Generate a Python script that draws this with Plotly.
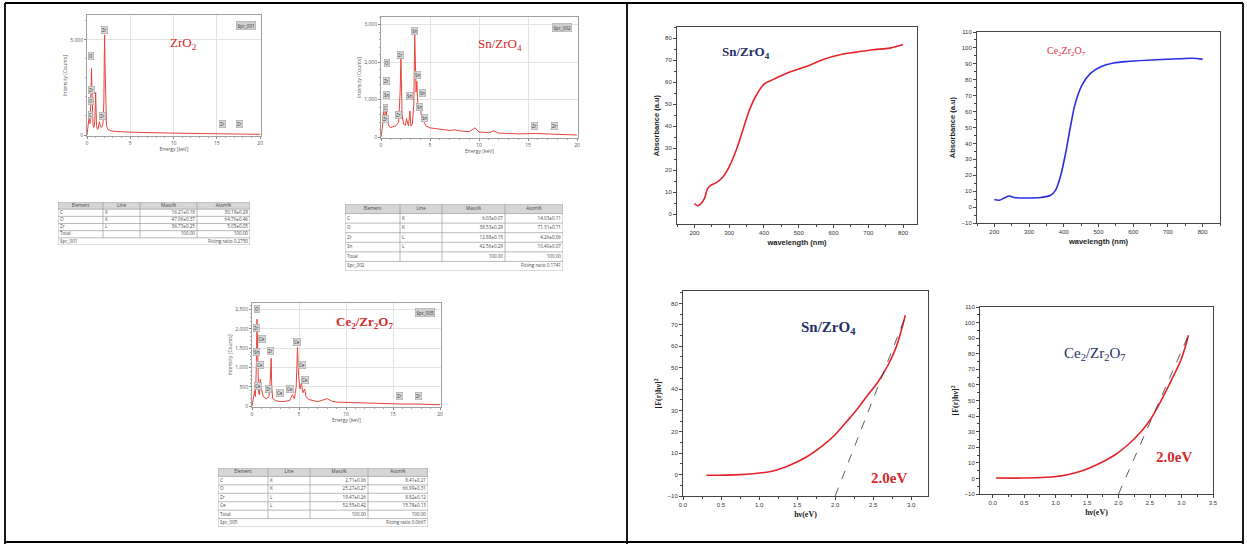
import plotly.graph_objects as go

W, H = 1247, 544

# ---------------- EDS spectra data ----------------
zro2_energy = [0, 0.1, 0.2, 0.28, 0.35, 0.42, 0.48, 0.52, 0.56, 0.62, 0.7, 0.8, 0.9, 0.96, 1.0, 1.04, 1.1, 1.2,
               1.3, 1.45, 1.55, 1.7, 1.85, 1.95, 2.0, 2.04, 2.08, 2.15, 2.25, 2.4, 2.6, 3.0, 3.5, 4.0, 5.0, 6.0,
               7.0, 8.0, 9.0, 10.0, 11.0, 12.0, 13.0, 14.0, 15.0, 15.75, 16.5, 17.67, 18.5, 20.0]
zro2_counts = [0, 300, 800, 1100, 600, 1500, 2800, 3500, 2600, 900, 500, 400, 700, 1600, 2240, 1500, 500, 300,
               350, 700, 450, 400, 600, 1800, 4200, 5260, 3800, 1200, 500, 300, 250, 200, 180, 170, 150, 140,
               120, 130, 110, 100, 90, 80, 70, 60, 55, 70, 50, 60, 45, 40]

sn_energy = [0, 0.1, 0.2, 0.28, 0.35, 0.45, 0.52, 0.6, 0.7, 0.8, 1.0, 1.2, 1.5, 1.8, 1.95, 2.0, 2.04, 2.08, 2.15,
             2.3, 2.5, 2.6, 2.7, 2.8, 2.95, 3.05, 3.2, 3.35, 3.44, 3.5, 3.58, 3.66, 3.75, 3.9, 4.0, 4.1, 4.25,
             4.4, 4.6, 5.0, 6.0, 7.0, 7.5, 8.0, 9.0, 9.6, 10.0, 11.0, 11.5, 12.0, 14.0, 15.75, 17.67, 20.0]
sn_counts = [0, 150, 400, 750, 500, 650, 800, 500, 350, 300, 250, 280, 300, 400, 1200, 1800, 2160, 1500, 600,
             350, 320, 500, 350, 300, 700, 300, 350, 900, 2730, 1800, 1200, 1490, 900, 700, 900, 600, 450,
             400, 300, 250, 220, 180, 200, 170, 150, 250, 140, 120, 170, 110, 90, 100, 80, 60]

ce_energy = [0, 0.1, 0.2, 0.28, 0.35, 0.45, 0.53, 0.6, 0.7, 0.8, 0.88, 0.95, 1.05, 1.2, 1.5, 1.8, 1.95, 2.04, 2.1,
             2.2, 2.5, 3.0, 3.5, 4.0, 4.3, 4.5, 4.7, 4.84, 4.95, 5.1, 5.26, 5.4, 5.6, 5.75, 6.0, 6.5, 7.0, 8.0,
             8.5, 9.0, 10, 12, 14, 15.75, 17.67, 20]
ce_counts = [0, 150, 300, 400, 250, 900, 2250, 800, 350, 300, 700, 500, 400, 250, 200, 250, 700, 1240, 500,
             200, 150, 120, 130, 150, 300, 200, 500, 1520, 800, 450, 600, 350, 450, 250, 180, 150, 120, 200,
             130, 110, 100, 80, 70, 60, 60, 40]

# peak labels (element, energy, counts)
zro2_labels = [("Zr", 2.07, 5490), ("O", 0.42, 4125), ("Zr", 0.5, 2380), ("O", 0.45, 1765), ("C", 0.35, 1066),
               ("Zr", 1.84, 1014), ("Zr", 15.6, 594), ("Zr", 17.6, 594)]
sn_labels = [("Sn", 3.46, 2840), ("Zr", 2.0, 2183), ("O", 0.58, 1980), ("Zr", 0.51, 1491), ("Sn", 0.51, 1118),
             ("C", 0.41, 781), ("Zr", 0.48, 488), ("Zr", 1.77, 604), ("Sn", 3.7, 1669), ("Sn", 2.95, 1110),
             ("Sn", 4.24, 1180), ("Sn", 3.9, 808), ("Sn", 4.48, 515), ("Zr", 15.7, 310), ("Zr", 17.7, 293)]
ce_labels = [("O", 0.53, 2525), ("Zr", 0.53, 2037), ("Ce", 1.07, 1729), ("Sn", 0.46, 1412), ("Zr", 2.02, 1430),
             ("Ce", 0.89, 1070), ("Ce", 0.6, 514), ("Zr", 1.78, 445), ("Ce", 3.02, 342), ("Ce", 4.09, 445),
             ("Ce", 4.8, 1652), ("Ce", 5.33, 1070), ("Ce", 5.68, 685), ("Zr", 15.7, 257), ("Zr", 17.7, 257)]

spectrum_ids = ["Spc_001", "Spc_002", "Spc_005"]

# ---------------- tables ----------------
table_header = ["Element", "Line", "Mass%", "Atom%"]
t1_element = ["C", "O", "Zr", "Total"]
t1_line = ["K", "K", "L", ""]
t1_mass = ["16.21±0.18", "47.06±0.37", "36.73±0.25", "100.00"]
t1_atom = ["30.19±0.29", "64.76±0.46", "5.05±0.05", "100.00"]
t1_footer = ("Spc_001", "Fitting ratio 0.2750")

t2_element = ["C", "O", "Zr", "Sn", "Total"]
t2_line = ["K", "K", "L", "L", ""]
t2_mass = ["6.03±0.07", "38.53±0.29", "12.88±0.15", "42.56±0.29", "100.00"]
t2_atom = ["14.03±0.11", "71.31±0.71", "4.26±0.06", "10.40±0.07", "100.00"]
t2_footer = ("Spc_002", "Fitting ratio 0.1741")

t3_element = ["C", "O", "Zr", "Ce", "Total"]
t3_line = ["K", "K", "L", "L", ""]
t3_mass = ["2.71±0.06", "25.27±0.27", "19.47±0.26", "52.55±0.42", "100.00"]
t3_atom = ["8.41±0.21", "66.99±0.31", "8.82±0.12", "15.78±0.13", "100.00"]
t3_footer = ("Spc_005", "Fitting ratio 0.0667")

# ---------------- UV-Vis data ----------------
sn_wavelength = [200, 209.6, 219, 229, 238, 248, 262, 282, 301, 320, 339, 358, 378, 402, 426, 474, 522, 570,
                 618, 666, 714, 762, 800]
sn_absorbance = [4.8, 3.8, 4.8, 7.1, 11.6, 13.2, 14.2, 16.9, 21.8, 29, 38, 47.2, 54, 59.3, 61.1, 64.6, 67.1,
                 70.2, 72.4, 73.6, 74.7, 75.4, 77]

ce_wavelength = [200, 214, 228.6, 243, 257, 295, 333, 362, 376, 390, 405, 419, 433, 452, 476, 505, 543, 590,
                 667, 733, 771, 800]
ce_absorbance = [4.7, 4.3, 5.7, 7.0, 6.0, 5.7, 6.0, 7.4, 10.5, 18.9, 33.6, 50.3, 65, 76.5, 83.8, 88, 90.5,
                 91.6, 92.6, 93.2, 93.5, 92.8]

# ---------------- Tauc data ----------------
sn_hv = [0.307, 0.745, 1.183, 1.402, 1.621, 1.840, 1.993, 2.146, 2.278, 2.409, 2.562, 2.694, 2.803, 2.922]
sn_fr = [-0.33, -0.02, 1.70, 4.35, 8.25, 13.7, 18.4, 24.6, 30.1, 36.3, 43.3, 51.1, 59.7, 74.5]
sn_tangent_hv = [2.0, 2.93]
sn_tangent_fr = [-10, 74.5]

ce_hv = [0.053, 0.50, 0.93, 1.19, 1.46, 1.72, 1.94, 2.15, 2.36, 2.52, 2.68, 2.84, 3.0, 3.11]
ce_fr = [0.23, 0.23, 0.87, 2.4, 5.4, 10.0, 15.0, 21.6, 30.1, 38.6, 50.3, 63.1, 77, 91.9]
ce_tangent_hv = [2.0, 3.11]
ce_tangent_fr = [-10, 91.9]

band_gap_label = "2.0eV"


def dom(l, r, t, b):
    return [l / W, r / W], [1 - b / H, 1 - t / H]


def px(x, y):
    return x / W, 1 - y / H


fig = go.Figure()
layout = {}
annotations = []
shapes = []

EDS_RED = "#e8453c"
SANS = "Open Sans"
SERIF = "Liberation Serif"


def ax_names(i):
    return ("x" if i == 1 else f"x{i}"), ("y" if i == 1 else f"y{i}")


def add_axes(i, box, xcfg, ycfg):
    xd, yd = dom(*box)
    xa, ya = ax_names(i)
    layout["xaxis" if i == 1 else f"xaxis{i}"] = dict(domain=xd, anchor=ya, automargin=False, **xcfg)
    layout["yaxis" if i == 1 else f"yaxis{i}"] = dict(domain=yd, anchor=xa, automargin=False, **ycfg)
    return xa, ya


def eds_axes(yr, ydt):
    common = dict(showgrid=True, gridcolor="#e3e3e3", gridwidth=0.6, linecolor="#a0a0a0", linewidth=0.8,
                  mirror=True, ticks="outside", ticklen=2, tickcolor="#888", zeroline=False,
                  tickfont=dict(size=5, color="#555", family=SANS))
    xc = dict(range=[0, 20.1], tickvals=[0, 5, 10, 15, 20],
              minor=dict(ticks="outside", ticklen=1.2, dtick=1, tickcolor="#aaa"),
              title=dict(text="Energy [keV]", font=dict(size=5, color="#555", family=SANS), standoff=2), **common)
    yc = dict(range=yr, dtick=ydt, tickformat=",",
              minor=dict(ticks="outside", ticklen=1.2, dtick=ydt / 5, tickcolor="#aaa"),
              title=dict(text="Intensity [Counts]", font=dict(size=5, color="#555", family=SANS), standoff=2),
              **common)
    return xc, yc


def paper_text(txt, x, y, size, color, family=SERIF):
    xx, yy = px(x, y)
    annotations.append(dict(x=xx, y=yy, xref="paper", yref="paper", showarrow=False, text=txt,
                            xanchor="center", yanchor="middle", font=dict(size=size, color=color, family=family)))


eds_sets = [
    (1, (87, 261, 15, 136), [-50, 6300], 5000, zro2_energy, zro2_counts, zro2_labels, spectrum_ids[0]),
    (2, (381, 578, 17, 138), [-20, 3200], 1000, sn_energy, sn_counts, sn_labels, spectrum_ids[1]),
    (3, (252, 441, 303, 407), [-17, 2670], 500, ce_energy, ce_counts, ce_labels, spectrum_ids[2]),
]
for i, box, yr, ydt, ex, ey, labs, sid in eds_sets:
    xc, yc = eds_axes(yr, ydt)
    xa, ya = add_axes(i, box, xc, yc)
    fig.add_trace(go.Scatter(x=ex, y=ey, mode="lines", line=dict(color=EDS_RED, width=1),
                             xaxis=xa, yaxis=ya, showlegend=False, hoverinfo="skip"))
    for el, e, c in labs:
        annotations.append(dict(x=e, y=c, xref=xa, yref=ya, text=el, showarrow=False,
                                xanchor="center", yanchor="middle",
                                font=dict(size=4.5, color="#333", family=SANS), bgcolor="#d8d8d8",
                                bordercolor="#9a9a9a", borderwidth=0.5, borderpad=0.5))
    annotations.append(dict(x=0.97, y=0.95, xref=f"{xa} domain", yref=f"{ya} domain", text=sid,
                            showarrow=False, xanchor="right", yanchor="top",
                            font=dict(size=4.5, color="#333", family=SANS), bgcolor="#cfcfcf",
                            bordercolor="#a0a0a0", borderwidth=0.5, borderpad=1))

# sample names on EDS panels
paper_text("ZrO<sub>2</sub>", 183, 43, 13, "#d42a2a")
paper_text("Sn/ZrO<sub>4</sub>", 500, 44, 13, "#d42a2a")
paper_text("<b>Ce<sub>2</sub>/Zr<sub>2</sub>O<sub>7</sub></b>", 364, 322, 13, "#d42a2a")

# ---------------- tables (drawn on hidden axes) ----------------
tables = [
    (8, (58, 250, 202, 245), [45, 37, 57, 53], (t1_element, t1_line, t1_mass, t1_atom), t1_footer),
    (9, (345, 563, 204, 271), [55, 42, 63, 58], (t2_element, t2_line, t2_mass, t2_atom), t2_footer),
    (10, (218, 428, 468, 527), [50, 42, 58, 60], (t3_element, t3_line, t3_mass, t3_atom), t3_footer),
]
TLINE = "#9c9c9c"
TFONT = dict(size=4.6, color="#444", family=SANS)
for i, box, cw, cols, footer in tables:
    n = len(cols[0])
    total = n + 2
    tw = sum(cw)
    hidden = dict(visible=False, showgrid=False, zeroline=False, fixedrange=True)
    xa, ya = add_axes(i, box, dict(range=[0, tw], **hidden), dict(range=[total, 0], **hidden))
    edges = [0]
    for w in cw:
        edges.append(edges[-1] + w)
    shapes.append(dict(type="rect", xref=xa, yref=ya, x0=0, x1=tw, y0=0, y1=1, fillcolor="#d6d6d6",
                       line=dict(width=0), layer="below"))
    for k in range(total + 1):
        shapes.append(dict(type="line", xref=xa, yref=ya, x0=0, x1=tw, y0=k, y1=k,
                           line=dict(color=TLINE, width=0.7)))
    for j, e in enumerate(edges):
        y1 = total if j in (0, len(edges) - 1) else total - 1
        shapes.append(dict(type="line", xref=xa, yref=ya, x0=e, x1=e, y0=0, y1=y1,
                           line=dict(color=TLINE, width=0.7)))
    fig.add_trace(go.Scatter(x=[(edges[j] + edges[j + 1]) / 2 for j in range(4)], y=[0.5] * 4,
                             text=table_header, mode="text", textposition="middle center", textfont=TFONT,
                             xaxis=xa, yaxis=ya, showlegend=False, hoverinfo="skip"))
    rows_y = [k + 1.5 for k in range(n)]
    for j in range(4):
        if j < 2:
            xs, pos = [edges[j] + 2] * n, "middle right"
        else:
            xs, pos = [edges[j + 1] - 2] * n, "middle left"
        fig.add_trace(go.Scatter(x=xs, y=rows_y, text=list(cols[j]), mode="text", textposition=pos,
                                 textfont=TFONT, xaxis=xa, yaxis=ya, showlegend=False, hoverinfo="skip"))
    fig.add_trace(go.Scatter(x=[2, tw - 2], y=[total - 0.5] * 2, text=list(footer), mode="text",
                             textposition=["middle right", "middle left"], textfont=TFONT,
                             xaxis=xa, yaxis=ya, showlegend=False, hoverinfo="skip"))


# ---------------- UV-Vis panels ----------------
def sci_axes(xr, xdt, xminor, xfmt, xtitle, yr, ydt, yminor, ytitle, title_font):
    common = dict(showgrid=False, linecolor="#444", linewidth=1, mirror=True, ticks="outside", ticklen=3,
                  tickcolor="#444", zeroline=False, tickfont=dict(size=6, color="#333", family="Liberation Sans"))
    xc = dict(range=xr, dtick=xdt, tick0=0, tickformat=xfmt,
              minor=dict(ticks="outside", ticklen=2, dtick=xminor, tickcolor="#444"),
              title=dict(text=xtitle, font=title_font, standoff=4), **common)
    yc = dict(range=yr, dtick=ydt, tick0=0,
              minor=dict(ticks="outside", ticklen=2, dtick=yminor, tickcolor="#444"),
              title=dict(text=ytitle, font=title_font, standoff=4), **common)
    return xc, yc


sans_title = dict(size=7.5, color="#222", family="Liberation Sans")
serif_title = dict(size=8, color="#222", family=SERIF)

xc, yc = sci_axes([150, 840], 100, 50, "", "<b>wavelength (nm)</b>", [-4.5, 85], 10, 5,
                  "<b>Absorbance (a.u)</b>", sans_title)
xa, ya = add_axes(4, (677, 917, 27, 224), xc, yc)
fig.add_trace(go.Scatter(x=sn_wavelength, y=sn_absorbance, mode="lines", line=dict(color="#e8222a", width=1.6),
                         line_shape="spline", xaxis=xa, yaxis=ya, showlegend=False, hoverinfo="skip"))

xc, yc = sci_axes([150, 850], 100, 50, "", "<b>wavelength (nm)</b>", [-10, 110], 10, 5,
                  "<b>Absorbance (a.u)</b>", sans_title)
xa, ya = add_axes(5, (977, 1220, 32, 223), xc, yc)
fig.add_trace(go.Scatter(x=ce_wavelength, y=ce_absorbance, mode="lines", line=dict(color="#2b2fe0", width=1.6),
                         line_shape="spline", xaxis=xa, yaxis=ya, showlegend=False, hoverinfo="skip"))

xc, yc = sci_axes([0, 3.22], 0.5, 0.25, ".1f", "<b>hν(eV)</b>", [-10, 85.8], 10, 5,
                  "<b>[F(r)hν]<sup>2</sup></b>", serif_title)
xa, ya = add_axes(6, (683, 928, 291, 496), xc, yc)
fig.add_trace(go.Scatter(x=sn_hv, y=sn_fr, mode="lines", line=dict(color="#e8222a", width=1.6),
                         line_shape="spline", xaxis=xa, yaxis=ya, showlegend=False, hoverinfo="skip"))
fig.add_trace(go.Scatter(x=sn_tangent_hv, y=sn_tangent_fr, mode="lines",
                         line=dict(color="#333", width=0.8, dash="dash"),
                         xaxis=xa, yaxis=ya, showlegend=False, hoverinfo="skip"))

xc, yc = sci_axes([-0.2, 3.5], 0.5, 0.25, ".1f", "<b>hν(eV)</b>", [-10, 110], 10, 5,
                  "<b>[F(r)hν]<sup>2</sup></b>", serif_title)
xa, ya = add_axes(7, (980, 1213, 307, 494), xc, yc)
fig.add_trace(go.Scatter(x=ce_hv, y=ce_fr, mode="lines", line=dict(color="#e8222a", width=1.6),
                         line_shape="spline", xaxis=xa, yaxis=ya, showlegend=False, hoverinfo="skip"))
fig.add_trace(go.Scatter(x=ce_tangent_hv, y=ce_tangent_fr, mode="lines",
                         line=dict(color="#333", width=0.8, dash="dash"),
                         xaxis=xa, yaxis=ya, showlegend=False, hoverinfo="skip"))

# text labels on right panels
paper_text("<b>Sn/ZrO<sub>4</sub></b>", 746, 52, 13, "#1f2f66")
paper_text("Ce<sub>2</sub>Zr<sub>2</sub>O<sub>7</sub>", 1066, 51, 10, "#e0303a")
paper_text("<b>Sn/ZrO<sub>4</sub></b>", 828, 328, 15, "#1f2f66")
paper_text("Ce<sub>2</sub>/Zr<sub>2</sub>O<sub>7</sub>", 1095, 354, 15, "#1f2f66")
paper_text(f"<b>{band_gap_label}</b>", 889, 478, 15, "#d42a2a")
paper_text(f"<b>{band_gap_label}</b>", 1174, 457, 15, "#d42a2a")

# frame lines
for x0, y0, x1, y1 in [(5, 3, 1243, 3), (5, 3, 5, 544), (627, 3, 627, 544), (1243, 3, 1243, 544),
                       (5, 542, 1243, 542)]:
    a0, b0 = px(x0, y0)
    a1, b1 = px(x1, y1)
    shapes.append(dict(type="line", xref="paper", yref="paper", x0=a0, y0=b0, x1=a1, y1=b1,
                       line=dict(color="black", width=1.8)))

fig.update_layout(width=W, height=H, margin=dict(l=0, r=0, t=0, b=0, pad=0, autoexpand=False),
                  paper_bgcolor="white", plot_bgcolor="white", showlegend=False,
                  annotations=annotations, shapes=shapes, **layout)
fig.write_html("out.html", config={"displayModeBar": False},
               post_script="document.body.style.margin='0';document.body.style.padding='0';"
                           "document.body.style.overflow='hidden';")
